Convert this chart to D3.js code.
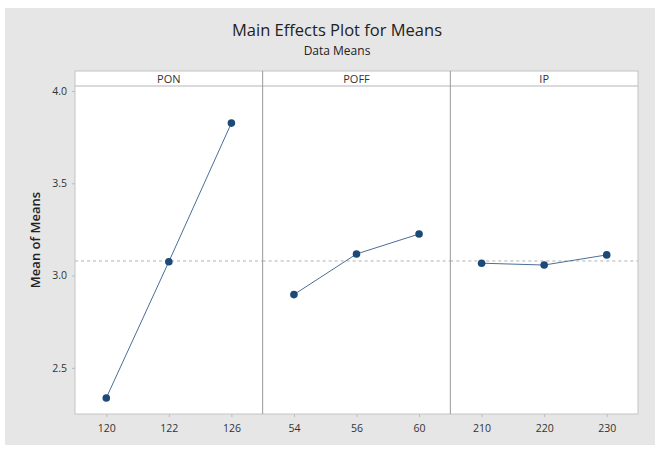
<!DOCTYPE html>
<html>
<head>
<meta charset="utf-8">
<script src="https://cdn.jsdelivr.net/npm/d3@7"></script>
<style>
  html, body { margin: 0; padding: 0; background: #fff; }
  text { font-family: "Open Sans", "Noto Sans", sans-serif; }
</style>
</head>
<body>
<svg id="chart" width="659" height="449"></svg>
<script>
// Factors and their levels
const factors = ["PON", "POFF", "IP"];
const ponLevels = ["120", "122", "126"];
const poffLevels = ["54", "56", "60"];
const ipLevels = ["210", "220", "230"];

// Mean response at each level
const ponMeans = [2.337, 3.075, 3.826];
const poffMeans = [2.897, 3.117, 3.225];
const ipMeans = [3.067, 3.057, 3.112];

// Overall mean (reference line)
const grandMean = 3.079;

// Y axis ticks
const yTicks = [2.5, 3.0, 3.5, 4.0];

const panels = [
  { name: factors[0], levels: ponLevels, means: ponMeans },
  { name: factors[1], levels: poffLevels, means: poffMeans },
  { name: factors[2], levels: ipLevels, means: ipMeans }
];

const svg = d3.select("#chart");

// Figure background
svg.append("rect").attr("x", 5).attr("y", 8).attr("width", 650).attr("height", 437)
  .attr("fill", "#e6e6e6");

const left = 75, right = 638, stripTop = 71, plotTop = 86, plotBottom = 414;

const y = d3.scaleLinear().domain([2.25, 4.027]).range([plotBottom, plotTop]);

const panelX = d3.scaleBand().domain(factors).range([left, right]).padding(0);

// Title
svg.append("text").attr("x", 337).attr("y", 36).attr("text-anchor", "middle")
  .attr("font-size", 16.5).attr("font-weight", 500).attr("fill", "#222").text("Main Effects Plot for Means");
svg.append("text").attr("x", 337).attr("y", 54.5).attr("text-anchor", "middle")
  .attr("font-size", 12).attr("font-weight", 500).attr("fill", "#222").text("Data Means");

// Y axis title
svg.append("text").attr("transform", "translate(40,240) rotate(-90)")
  .attr("text-anchor", "middle").attr("font-size", 13).attr("font-weight", 600)
  .attr("fill", "#222").text("Mean of Means");

// Plot background
svg.append("rect").attr("x", left).attr("y", stripTop).attr("width", right - left)
  .attr("height", plotBottom - stripTop).attr("fill", "#fff");

// Y axis
const yAxis = d3.axisLeft(y).tickValues(yTicks).tickFormat(d3.format(".1f"))
  .tickSize(3).tickPadding(5);
const yg = svg.append("g").attr("transform", `translate(${left},0)`).call(yAxis);
yg.select(".domain").remove();
yg.selectAll("line").attr("stroke", "#bbb");
yg.selectAll("text").attr("font-size", 10.5).attr("font-weight", 500).attr("fill", "#333")
  .attr("font-family", "\"Open Sans\", sans-serif");

panels.forEach(p => {
  const x0 = panelX(p.name), bw = panelX.bandwidth();
  const x = d3.scalePoint().domain(p.levels).range([x0, x0 + bw]).padding(0.5);

  // Strip label
  svg.append("text").attr("x", x0 + bw / 2).attr("y", stripTop + 12)
    .attr("text-anchor", "middle").attr("font-size", 11).attr("font-weight", 500)
    .attr("fill", "#333").text(p.name);

  // X axis
  const xAxis = d3.axisBottom(x).tickSize(3).tickPadding(8);
  const xg = svg.append("g").attr("transform", `translate(0,${plotBottom})`).call(xAxis);
  xg.select(".domain").remove();
  xg.selectAll("line").attr("stroke", "#bbb");
  xg.selectAll("text").attr("font-size", 10.5).attr("font-weight", 500).attr("fill", "#333")
    .attr("font-family", "\"Open Sans\", sans-serif");

  // Grand mean reference line
  svg.append("line").attr("x1", x0).attr("x2", x0 + bw)
    .attr("y1", y(grandMean)).attr("y2", y(grandMean))
    .attr("stroke", "#b0b0b0").attr("stroke-width", 1).attr("stroke-dasharray", "3,3");

  const pts = p.levels.map((l, i) => [x(l), y(p.means[i])]);
  svg.append("path").attr("d", d3.line()(pts)).attr("fill", "none")
    .attr("stroke", "#4a6f96").attr("stroke-width", 1);
  svg.selectAll(null).data(pts).enter().append("circle")
    .attr("cx", d => d[0]).attr("cy", d => d[1]).attr("r", 3.8).attr("fill", "#1b4a78");
});

// Strip separator and panel borders
svg.append("line").attr("x1", left).attr("x2", right).attr("y1", plotTop).attr("y2", plotTop)
  .attr("stroke", "#b5b5b5");
svg.append("rect").attr("x", left).attr("y", stripTop).attr("width", right - left)
  .attr("height", plotBottom - stripTop).attr("fill", "none").attr("stroke", "#c4c4c4");
factors.slice(1).forEach(f => {
  svg.append("line").attr("x1", panelX(f)).attr("x2", panelX(f))
    .attr("y1", stripTop).attr("y2", plotBottom).attr("stroke", "#999");
});
</script>
</body>
</html>
